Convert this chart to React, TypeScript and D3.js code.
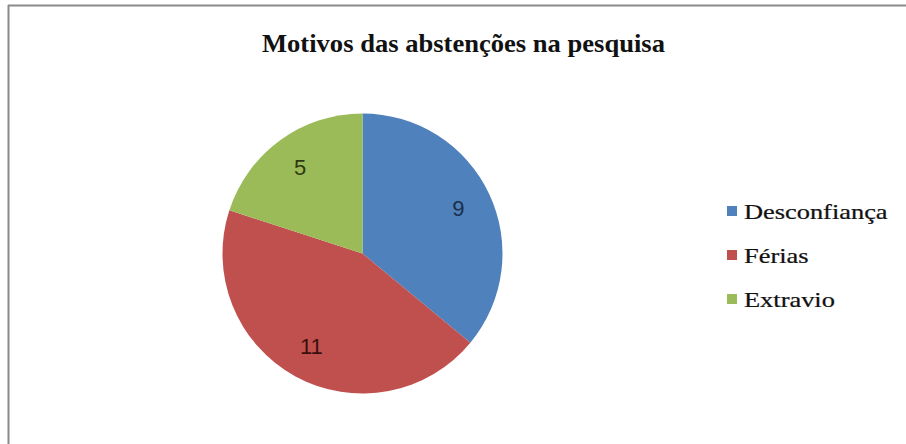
import React from "react";
import * as d3 from "d3";

const categories = ["Desconfiança", "Férias", "Extravio"];
const values = [9, 11, 5];
const colors = ["#4F81BD", "#C0504D", "#9BBB59"];
const labelColors = ["#1b2f4a", "#3a0f0e", "#2c3a12"];
const title = "Motivos das abstenções na pesquisa";

const W = 906;
const H = 444;

export default function App() {
  const cx = 362.5;
  const cy = 253.5;
  const r = 140;
  const pie = d3.pie<number>().sort(null).value((d) => d);
  const arcs = pie(values);
  const arc = d3.arc<d3.PieArcDatum<number>>().innerRadius(0).outerRadius(r);
  const labelArc = d3.arc<d3.PieArcDatum<number>>().innerRadius(106).outerRadius(106);

  const legendY = d3.scalePoint<string>().domain(categories).range([211, 299]);

  return (
    <svg
      width={W}
      height={H}
      style={{ position: "fixed", left: 0, top: 0, background: "#fff" }}
    >
      <rect x={0} y={0} width={W} height={H} fill="#fff" />
      <line x1={8} y1={5.5} x2={W} y2={5.5} stroke="#8a8a8a" strokeWidth={2} />
      <line x1={8.5} y1={5} x2={8.5} y2={H} stroke="#8a8a8a" strokeWidth={2} />
      <text
        x={262}
        y={52}
        fontFamily="'Liberation Serif', 'Times New Roman', serif"
        fontWeight="bold"
        fontSize={26}
        textLength={403}
        lengthAdjust="spacingAndGlyphs"
        fill="#111"
      >
        {title}
      </text>
      <g transform={`translate(${cx},${cy})`}>
        {arcs.map((a, i) => (
          <path key={i} d={arc(a) || ""} fill={colors[i]} />
        ))}
        {arcs.map((a, i) => {
          const [lx, ly] = labelArc.centroid(a);
          return (
            <text
              key={"l" + i}
              x={lx}
              y={ly}
              textAnchor="middle"
              dominantBaseline="central"
              fontFamily="'Liberation Sans', Arial, sans-serif"
              fontSize={22}
              fill={labelColors[i]}
            >
              {values[i]}
            </text>
          );
        })}
      </g>
      {categories.map((c, i) => {
        const y = legendY(c) as number;
        return (
          <g key={c}>
            <rect x={727} y={y - 5} width={10} height={10} fill={colors[i]} />
            <text
              x={0}
              y={0}
              transform={`translate(744,${y + 8}) scale(1.2,1)`}
              fontFamily="'Liberation Serif', 'Times New Roman', serif"
              fontSize={22}
              fill="#111"
              stroke="#111"
              strokeWidth={0.25}
            >
              {c}
            </text>
          </g>
        );
      })}
    </svg>
  );
}
